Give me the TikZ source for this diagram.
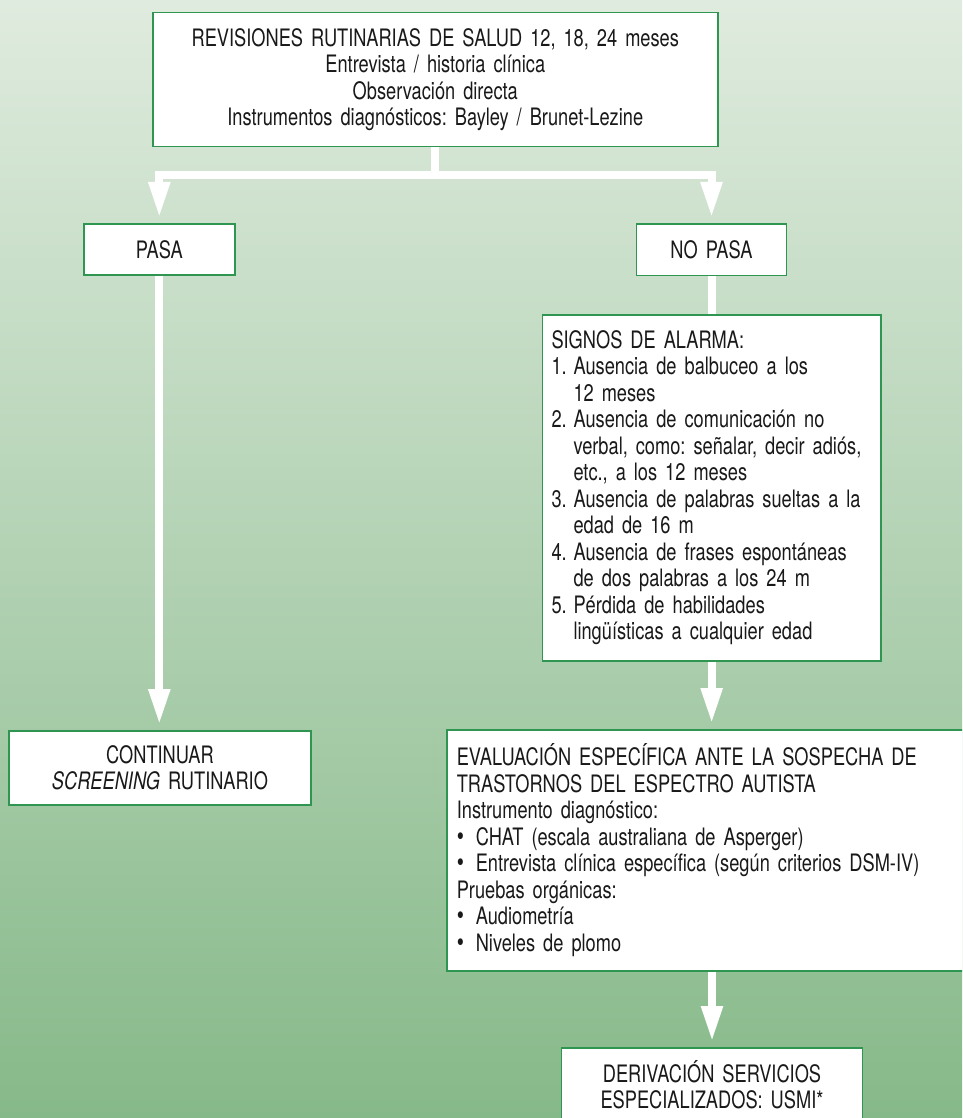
\documentclass[tikz,border=0pt]{standalone}
\usepackage{fontspec}
\setmainfont{TeX Gyre Heros}[FakeStretch=0.76, WordSpace=0.8]
\usetikzlibrary{arrows.meta}
\definecolor{bordergreen}{RGB}{46,150,80}
\definecolor{bgtop}{RGB}{223,235,222}
\definecolor{bgmid}{RGB}{180,210,180}
\definecolor{bgbot}{RGB}{134,185,137}
\definecolor{txt}{RGB}{25,25,25}
\newcommand{\bul}{\makebox[19pt][l]{\smash{\fontsize{27}{26.5}\selectfont •}}}
\frenchspacing
\begin{document}
\begin{tikzpicture}[x=1pt,y=1pt,
  box/.style={draw=bordergreen, line width=1.6pt, fill=white, text=txt,
    font=\fontsize{24}{26.5}\selectfont\frenchspacing, anchor=north west, inner ysep=0pt, inner xsep=8pt},
  conn/.style={draw=white, line width=8pt},
  arr/.style={conn, -{Triangle[width=20pt,length=36pt]}, shorten >=5pt}]
\useasboundingbox (0,0) rectangle (962,-1118);
\clip (0,0) rectangle (962,-1118);
\shade[top color=bgtop, middle color=bgmid, bottom color=bgbot] (0,0) rectangle (962,-1118);

\node[box, minimum width=565pt, minimum height=134pt, text width=549pt, align=center] (top) at (152,-11.7)
  {REVISIONES RUTINARIAS DE SALUD 12, 18, 24 meses\\Entrevista / historia clínica\\Observación directa\\Instrumentos diagnósticos: Bayley / Brunet-Lezine};

\node[box, minimum width=151pt, minimum height=51pt, text width=135pt, align=center] (pasa) at (83,-223) {PASA};
\node[box, minimum width=150pt, minimum height=51.5pt, text width=134pt, align=center] (nopasa) at (635.7,-223) {NO PASA};

\node[box, minimum width=338.3pt, minimum height=346pt, inner xsep=9pt, text width=320.3pt, align=left] (signos) at (541.7,-314)
  {SIGNOS DE ALARMA:\\
   \makebox[22pt][l]{1.}Ausencia de balbuceo a los\\
   \hspace*{22pt}12 meses\\
   \makebox[22pt][l]{2.}Ausencia de comunicación no\\
   \hspace*{22pt}verbal, como: señalar, decir adiós,\\
   \hspace*{22pt}etc., a los 12 meses\\
   \makebox[22pt][l]{3.}Ausencia de palabras sueltas a la\\
   \hspace*{22pt}edad de 16 m\\
   \makebox[22pt][l]{4.}Ausencia de frases espontáneas\\
   \hspace*{22pt}de dos palabras a los 24 m\\
   \makebox[22pt][l]{5.}Pérdida de habilidades\\
   \hspace*{22pt}lingüísticas a cualquier edad};

\node[box, minimum width=301.7pt, minimum height=74pt, text width=285.7pt, align=center] (continuar) at (8.3,-730)
  {CONTINUAR\\\textit{SCREENING} RUTINARIO};

\node[box, minimum width=534pt, minimum height=241pt, inner xsep=10pt, text width=514pt, align=left] (eval) at (446,-729)
  {EVALUACIÓN ESPECÍFICA ANTE LA SOSPECHA DE\\
   TRASTORNOS DEL ESPECTRO AUTISTA\\
   Instrumento diagnóstico:\\
   \bul CHAT (escala australiana de Asperger)\\
   \bul Entrevista clínica específica (según criterios DSM-IV)\\
   Pruebas orgánicas:\\
   \bul Audiometría\\
   \bul Niveles de plomo};

\node[box, minimum width=301pt, minimum height=74pt, text width=285pt, align=center] (deriv) at (560.7,-1047)
  {DERIVACIÓN SERVICIOS\\ESPECIALIZADOS: USMI*};

\path (top.south) ++(0,-27.3) coordinate (split);
\draw[conn] (top.south) -- (split);
\draw[arr] (split) -| (pasa.north);
\draw[arr] (split) -| (nopasa.north);
\draw[arr] (pasa.south) -- (pasa.south |- continuar.north);
\draw[conn] (nopasa.south) -- (nopasa.south |- signos.north);
\draw[arr] (signos.south) -- (signos.south |- eval.north);
\draw[arr] (deriv.north |- eval.south) -- (deriv.north);
\end{tikzpicture}
\end{document}
